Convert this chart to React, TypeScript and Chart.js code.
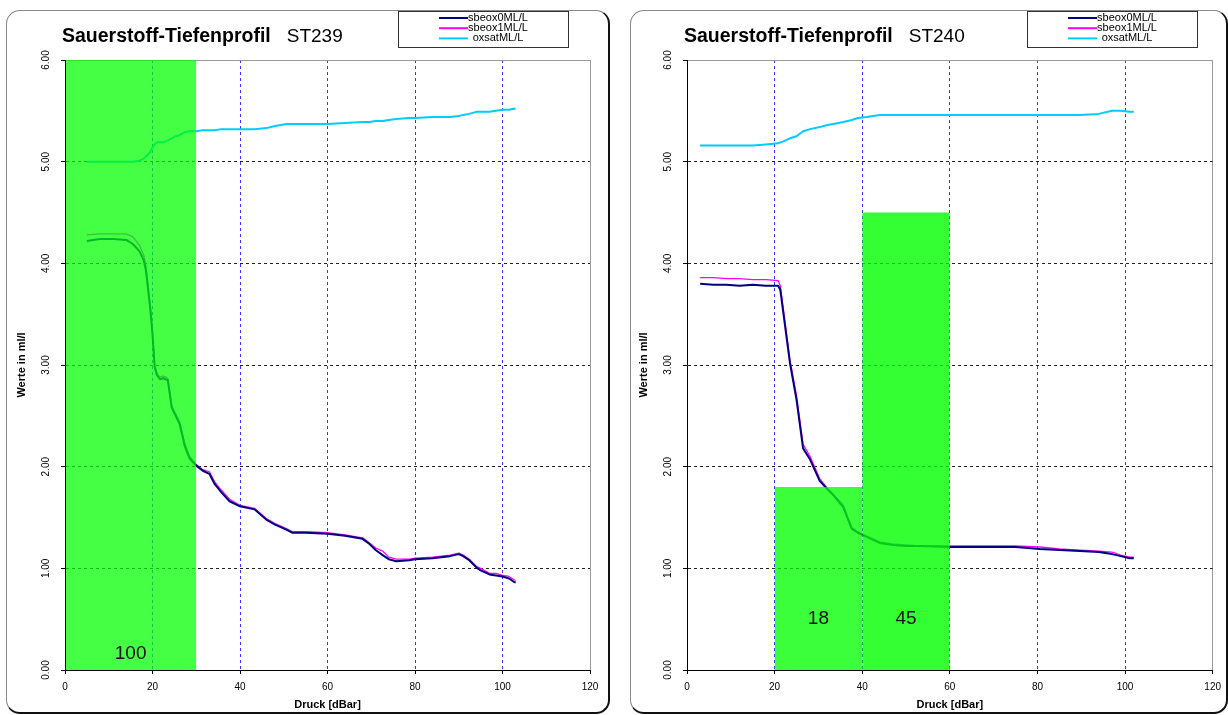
import React, { useEffect, useRef } from "react";
import { Chart, registerables } from "chart.js";

Chart.register(...registerables);

const fontFamily = "'Liberation Sans', Arial, Helvetica, sans-serif";

// axes
const xTicks = [0, 20, 40, 60, 80, 100, 120];
const yTicks = [0, 1, 2, 3, 4, 5, 6];
const xTitle = "Druck [dBar]";
const yTitle = "Werte in ml/l";
const chartTitle = "Sauerstoff-Tiefenprofil";

// series
const seriesNames = ["sbeox0ML/L", "sbeox1ML/L", "oxsatML/L"];
const seriesColors = ["#000080", "#FF00FF", "#00CCFF"];

// ---------- ST239 ----------
const st239Depth = [5, 8, 11, 14, 15.5, 17, 18, 18.5, 19, 19.5, 20, 20.5, 21, 21.7, 22.4, 23.5, 24.4, 25.3, 26.2, 27.4, 28.5, 30, 31.5, 33, 34.2, 35.7, 37.6, 40, 43.3, 46, 48, 50.6, 52, 55, 60, 64, 68, 69.6, 71, 72.6, 74, 75.7, 78.7, 80, 84, 88, 90, 91, 92.4, 94, 95, 97, 98.5, 100, 101.5, 102.5, 103];
const st239Sbeox0 = [4.22, 4.24, 4.24, 4.23, 4.19, 4.12, 4.03, 3.93, 3.74, 3.55, 3.3, 2.98, 2.9, 2.86, 2.87, 2.85, 2.58, 2.5, 2.42, 2.2, 2.08, 2.01, 1.96, 1.93, 1.83, 1.75, 1.66, 1.61, 1.58, 1.48, 1.43, 1.38, 1.35, 1.35, 1.34, 1.32, 1.29, 1.24, 1.18, 1.13, 1.09, 1.07, 1.08, 1.09, 1.1, 1.12, 1.14, 1.12, 1.08, 1.01, 0.98, 0.94, 0.93, 0.92, 0.9, 0.87, 0.86];
const st239Sbeox1 = [4.28, 4.29, 4.29, 4.29, 4.26, 4.18, 4.08, 3.97, 3.78, 3.58, 3.33, 3.0, 2.92, 2.88, 2.89, 2.87, 2.6, 2.52, 2.44, 2.22, 2.1, 2.02, 1.97, 1.95, 1.85, 1.77, 1.68, 1.62, 1.59, 1.49, 1.44, 1.39, 1.36, 1.36, 1.35, 1.33, 1.3, 1.25, 1.2, 1.17, 1.11, 1.09, 1.09, 1.1, 1.11, 1.13, 1.15, 1.13, 1.09, 1.02, 1.0, 0.95, 0.95, 0.93, 0.92, 0.89, 0.88];
const st239Oxsat = [5.0, 5.0, 5.0, 5.0, 5.0, 5.01, 5.03, 5.05, 5.07, 5.1, 5.14, 5.17, 5.19, 5.19, 5.19, 5.21, 5.23, 5.25, 5.26, 5.29, 5.3, 5.3, 5.31, 5.31, 5.31, 5.32, 5.32, 5.32, 5.32, 5.33, 5.35, 5.37, 5.37, 5.37, 5.37, 5.38, 5.39, 5.39, 5.4, 5.4, 5.41, 5.42, 5.43, 5.43, 5.44, 5.44, 5.45, 5.46, 5.47, 5.49, 5.49, 5.49, 5.5, 5.51, 5.51, 5.52, 5.52];
const st239BarStart = [0];
const st239BarEnd = [30];
const st239BarValue = [100];
const st239BarLabelY = [0.16];

// ---------- ST240 ----------
const st240Depth = [3, 6, 9, 12, 15, 18, 20.8, 21.3, 22, 23.5, 25, 26.5, 28.1, 30.3, 32, 33.4, 35.7, 37.6, 39, 41, 44, 47, 50, 53, 60, 70, 75, 80.5, 85, 89.7, 94, 97, 99, 101, 102];
const st240Sbeox0 = [3.8, 3.79, 3.79, 3.78, 3.79, 3.78, 3.78, 3.74, 3.51, 3.02, 2.66, 2.18, 2.07, 1.86, 1.78, 1.72, 1.6, 1.39, 1.35, 1.31, 1.25, 1.23, 1.22, 1.22, 1.21, 1.21, 1.21, 1.19, 1.18, 1.17, 1.16, 1.14, 1.12, 1.1, 1.1];
const st240Sbeox1 = [3.86, 3.86, 3.85, 3.85, 3.84, 3.84, 3.83, 3.78, 3.55, 3.05, 2.7, 2.22, 2.1, 1.88, 1.79, 1.73, 1.62, 1.4, 1.36, 1.32, 1.26, 1.24, 1.23, 1.22, 1.22, 1.22, 1.22, 1.21, 1.19, 1.18, 1.17, 1.16, 1.13, 1.11, 1.11];
const st240Oxsat = [5.16, 5.16, 5.16, 5.16, 5.16, 5.17, 5.18, 5.19, 5.2, 5.23, 5.25, 5.3, 5.32, 5.34, 5.36, 5.37, 5.39, 5.41, 5.43, 5.44, 5.46, 5.46, 5.46, 5.46, 5.46, 5.46, 5.46, 5.46, 5.46, 5.46, 5.47, 5.5, 5.5, 5.49, 5.49];
const st240BarStart = [20, 40];
const st240BarEnd = [40, 60];
const st240BarValue = [18, 45];
const st240BarLabelY = [0.5, 0.5];

type StationCfg = {
  station: string;
  depth: number[];
  s0: number[];
  s1: number[];
  sat: number[];
  barStart: number[];
  barEnd: number[];
  barValue: number[];
  barLabelY: number[];
  barColors: string[];
  padRight: number;
  legendX: number;
};

function buildConfig(cfg: StationCfg): any {
  const datasets: any[] = [];
  cfg.barStart.forEach((s, i) => {
    const h = cfg.barValue[i] / 10;
    datasets.push({
      label: "bar" + i,
      isBar: true,
      data: [
        { x: s, y: h },
        { x: cfg.barEnd[i], y: h },
      ],
      borderColor: "rgba(0,0,0,0)",
      borderWidth: 0,
      backgroundColor: cfg.barColors[i],
      fill: "origin",
      pointRadius: 0,
      tension: 0,
    });
  });
  const seriesVals = [cfg.s0, cfg.s1, cfg.sat];
  const widths = [2, 1.3, 2];
  seriesVals.forEach((vals, k) => {
    datasets.push({
      label: seriesNames[k],
      data: cfg.depth.map((d, i) => ({ x: d, y: vals[i] })),
      borderColor: seriesColors[k],
      backgroundColor: seriesColors[k],
      borderWidth: widths[k],
      pointRadius: 0,
      fill: false,
      tension: 0,
      borderJoinStyle: "round",
    });
  });

  const titlePlugin = {
    id: "customTitle",
    afterDraw(chart: any) {
      const ctx = chart.ctx;
      const x0 = chart.chartArea.left - 3;
      const y0 = 31.5;
      ctx.save();
      ctx.fillStyle = "#000";
      ctx.textBaseline = "alphabetic";
      ctx.textAlign = "left";
      ctx.font = `bold 19.5px ${fontFamily}`;
      ctx.fillText(chartTitle, x0, y0);
      const w = ctx.measureText(chartTitle).width;
      ctx.font = `19px ${fontFamily}`;
      ctx.fillText(cfg.station, x0 + w + 16, y0);
      ctx.restore();
    },
  };

  const legendPlugin = {
    id: "customLegend",
    afterDraw(chart: any) {
      const ctx = chart.ctx;
      const bx = cfg.legendX;
      const by = 1;
      const bw = 170;
      const bh = 36;
      ctx.save();
      ctx.fillStyle = "#fff";
      ctx.fillRect(bx, by, bw, bh);
      ctx.strokeStyle = "#333";
      ctx.lineWidth = 1;
      ctx.strokeRect(bx + 0.5, by + 0.5, bw, bh);
      const series = chart.data.datasets.filter((d: any) => !d.isBar);
      series.forEach((d: any, i: number) => {
        const y = by + 7 + i * 10.2;
        ctx.strokeStyle = d.borderColor;
        ctx.lineWidth = 2;
        ctx.beginPath();
        ctx.moveTo(bx + 41, y);
        ctx.lineTo(bx + 70, y);
        ctx.stroke();
        ctx.fillStyle = "#000";
        ctx.font = `11px ${fontFamily}`;
        ctx.textAlign = "center";
        ctx.textBaseline = "middle";
        ctx.fillText(d.label, bx + 100, y);
      });
      ctx.restore();
    },
  };

  const barLabelPlugin = {
    id: "barLabels",
    afterDatasetsDraw(chart: any) {
      const ctx = chart.ctx;
      const xs = chart.scales.x;
      const ys = chart.scales.y;
      ctx.save();
      ctx.fillStyle = "#111";
      ctx.font = `19px ${fontFamily}`;
      ctx.textAlign = "center";
      ctx.textBaseline = "middle";
      cfg.barValue.forEach((v, i) => {
        const cx = xs.getPixelForValue((cfg.barStart[i] + cfg.barEnd[i]) / 2);
        const cy = ys.getPixelForValue(cfg.barLabelY[i]);
        ctx.fillText(String(v), cx, cy);
      });
      ctx.restore();
    },
  };

  const tickFont = { family: fontFamily, size: 10 };
  const titleFont = { family: fontFamily, size: 11, weight: "bold" as const };

  return {
    type: "line",
    data: { datasets },
    plugins: [barLabelPlugin, titlePlugin, legendPlugin],
    options: {
      animation: false,
      responsive: false,
      maintainAspectRatio: false,
      parsing: true,
      layout: { padding: { left: 0, top: 50, right: cfg.padRight, bottom: 0 } },
      plugins: {
        legend: { display: false },
        title: { display: false },
        tooltip: { enabled: false },
      },
      scales: {
        x: {
          type: "linear",
          min: 0,
          max: 120,
          afterFit: (s: any) => {
            s.height = 43;
          },
          afterBuildTicks: (s: any) => {
            s.ticks = xTicks.map((v) => ({ value: v }));
          },
          ticks: {
            color: "#000",
            font: tickFont,
            padding: 7,
            maxRotation: 0,
            minRotation: 0,
            autoSkip: false,
            callback: (v: any) => String(v),
          },
          grid: {
            color: (c: any) => {
              const v = c.tick ? c.tick.value : null;
              if (v === 0) return "rgba(0,0,0,0)";
              if (v === 120) return "#9a9a9a";
              return "#3333FF";
            },
            lineWidth: 1,
            tickLength: 4,
            tickColor: "#000",
            drawTicks: true,
          },
          border: {
            display: true,
            color: "#000",
            width: 1,
            z: 1,
            dash: (c: any) => (c.tick && c.tick.value !== 120 && c.tick.value !== 0 ? [3, 3] : []),
          },
          title: {
            display: true,
            text: xTitle,
            color: "#000",
            font: titleFont,
            padding: { top: 0, bottom: 1 },
          },
        },
        y: {
          type: "linear",
          min: 0,
          max: 6,
          afterFit: (s: any) => {
            s.width = 59;
          },
          afterBuildTicks: (s: any) => {
            s.ticks = yTicks.map((v) => ({ value: v }));
          },
          ticks: {
            color: "#000",
            font: tickFont,
            padding: 5,
            minRotation: 90,
            maxRotation: 90,
            crossAlign: "center",
            autoSkip: false,
            callback: (v: any) => Number(v).toFixed(2),
          },
          grid: {
            color: (c: any) => {
              const v = c.tick ? c.tick.value : null;
              if (v === 0) return "rgba(0,0,0,0)";
              if (v === 6) return "#9a9a9a";
              return "#222";
            },
            lineWidth: 1,
            tickLength: 4,
            tickColor: "#000",
            drawTicks: true,
          },
          border: {
            display: true,
            color: "#000",
            width: 1,
            z: 1,
            dash: (c: any) => (c.tick && c.tick.value !== 6 && c.tick.value !== 0 ? [3, 3] : []),
          },
          title: {
            display: true,
            text: yTitle,
            color: "#000",
            font: titleFont,
            padding: { top: 9.5, bottom: 0 },
          },
        },
      },
    },
  };
}

function StationChart(props: { cfg: StationCfg; left: number; width: number }) {
  const ref = useRef<HTMLCanvasElement | null>(null);
  useEffect(() => {
    if (!ref.current) return;
    const chart = new Chart(ref.current, buildConfig(props.cfg));
    return () => chart.destroy();
  }, []);
  return (
    <canvas
      ref={ref}
      width={props.width}
      height={703}
      style={{ position: "absolute", left: props.left, top: 10, width: props.width, height: 703 }}
    />
  );
}

const st239Cfg: StationCfg = {
  station: "ST239",
  depth: st239Depth,
  s0: st239Sbeox0,
  s1: st239Sbeox1,
  sat: st239Oxsat,
  barStart: st239BarStart,
  barEnd: st239BarEnd,
  barValue: st239BarValue,
  barLabelY: st239BarLabelY,
  barColors: ["rgba(0,255,0,0.73)"],
  padRight: 19,
  legendX: 392,
};

const st240Cfg: StationCfg = {
  station: "ST240",
  depth: st240Depth,
  s0: st240Sbeox0,
  s1: st240Sbeox1,
  sat: st240Oxsat,
  barStart: st240BarStart,
  barEnd: st240BarEnd,
  barValue: st240BarValue,
  barLabelY: st240BarLabelY,
  barColors: ["rgba(0,255,0,0.77)", "rgba(0,255,0,0.8)"],
  padRight: 15,
  legendX: 399,
};

const panelStyle = (left: number, width: number): React.CSSProperties => ({
  position: "absolute",
  left,
  top: 10,
  width,
  height: 704,
  boxSizing: "border-box",
  borderTop: "1px solid #8a8a8a",
  borderLeft: "1px solid #8a8a8a",
  borderRight: "2px solid #111",
  borderBottom: "2px solid #111",
  borderRadius: 14,
  background: "#fff",
});

export default function App() {
  return (
    <div
      style={{
        position: "absolute",
        left: 0,
        top: 0,
        width: 1228,
        height: 715,
        background: "#fff",
        overflow: "hidden",
      }}
    >
      <div style={panelStyle(6, 604)} />
      <div style={panelStyle(630, 598)} />
      <StationChart cfg={st239Cfg} left={6} width={603} />
      <StationChart cfg={st240Cfg} left={628} width={600} />
    </div>
  );
}
